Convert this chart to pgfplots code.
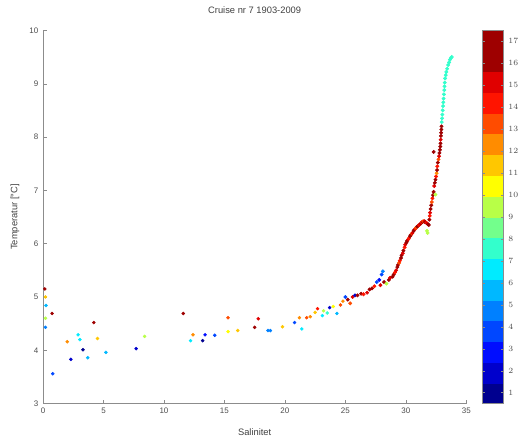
\documentclass[border=0pt]{standalone}
\usepackage{fontspec}
\setmainfont{Liberation Sans}
\usepackage{pgfplots}
\usepackage{pgfplotstable}
\pgfplotsset{compat=1.18}
\pgfplotstableread{
x y c
0.15 5.15 17
0.2 5.00 11
0.25 4.84 6
0.75 4.69 16
0.2 4.60 9
0.2 4.43 5
0.8 3.56 4
2.0 4.16 12
2.3 3.83 2
2.9 4.29 7
3.05 4.20 7
3.3 4.01 1
3.7 3.86 6
4.2 4.52 17
4.5 4.22 11
5.2 3.96 6
7.7 4.03 2
8.4 4.26 9
11.6 4.69 16
12.4 4.29 12
12.2 4.18 7
13.2 4.18 1
13.4 4.29 3
14.2 4.28 4
15.3 4.61 13
15.3 4.35 10
16.1 4.37 11
17.5 4.43 16
17.8 4.59 15
18.6 4.37 5
18.8 4.37 5
19.8 4.44 11
20.8 4.52 4
21.2 4.61 12
21.4 4.40 7
21.8 4.61 13
22.1 4.63 12
22.5 4.71 11
22.7 4.78 14
23.1 4.65 7
23.2 4.74 9
23.5 4.70 8
23.7 4.80 2
24.0 4.82 10
24.3 4.69 6
24.6 4.85 13
24.8 4.92 12
}\sparse
\pgfplotstableread{
x y c
25.0 5.00 4
25.2 4.95 16
25.4 4.88 13
25.6 5.00 15
25.8 5.03 2
26.0 5.03 17
26.3 5.06 16
26.5 5.05 14
26.8 5.08 15
27.0 5.14 17
27.2 5.16 16
27.4 5.20 14
27.6 5.28 4
27.8 5.32 3
28.0 5.42 4
28.1 5.48 5
27.9 5.22 15
28.2 5.28 16
28.4 5.25 9
28.6 5.32 16
28.7 5.36 15
28.9 5.38 17
29.0 5.42 16
29.1 5.46 14
29.2 5.50 15
29.3 5.56 17
29.35 5.60 16
29.45 5.64 13
29.5 5.68 14
29.6 5.73 16
29.65 5.78 17
29.75 5.82 15
29.8 5.87 16
29.9 5.93 14
29.95 5.98 15
30.05 6.02 17
30.1 6.05 16
30.2 6.08 15
30.25 6.10 14
30.35 6.14 16
30.4 6.16 17
30.5 6.19 13
30.55 6.20 15
30.65 6.24 17
30.7 6.26 16
30.8 6.28 14
30.85 6.30 13
30.95 6.32 17
31.0 6.33 16
31.1 6.35 14
31.15 6.36 15
31.25 6.38 17
31.3 6.40 14
31.4 6.41 16
31.45 6.42 13
31.55 6.42 15
31.6 6.40 16
31.7 6.39 14
31.75 6.38 15
31.85 6.36 16
31.9 6.35 17
31.8 6.20 9
31.75 6.24 9
31.95 6.45 16
31.98 6.52 14
32.0 6.58 15
32.05 6.65 16
32.1 6.72 17
32.15 6.78 13
32.2 6.85 14
32.25 6.91 17
32.3 6.97 16
32.45 6.92 9
32.35 7.08 15
32.4 7.14 17
32.45 7.20 16
32.5 7.26 14
32.55 7.32 12
32.58 7.38 16
32.6 7.45 14
32.65 7.52 17
32.7 7.58 13
32.75 7.64 15
32.78 7.70 16
32.82 7.76 17
32.85 7.82 17
32.87 7.88 16
32.88 7.95 15
32.9 8.02 16
32.92 8.08 17
32.94 8.14 16
32.95 8.20 16
32.3 7.72 17
32.97 8.28 8
33.0 8.35 8
33.02 8.42 8
33.05 8.50 8
33.08 8.58 8
33.1 8.65 8
33.12 8.72 8
33.15 8.80 8
33.18 8.88 8
33.2 8.95 8
33.22 9.02 8
33.25 9.10 8
33.3 9.16 8
33.35 9.22 8
33.42 9.28 8
33.5 9.35 8
33.58 9.40 8
33.65 9.45 8
33.72 9.48 8
33.8 9.50 8
}\curve
\begin{document}
\begin{tikzpicture}
\path[use as bounding box] (-32.25pt,-29.25pt) rectangle (359.75pt,302.5pt);
\begin{axis}[
  scale only axis, width=317.25pt, height=279.75pt,
  xmin=0, xmax=35, ymin=3, ymax=10,
  xtick={0,5,...,35}, ytick={3,...,10},
  axis lines*=left, axis line style={black!45},
  tick style={black!45}, tick align=inside, major tick length=3pt,
  ticklabel style={font=\fontsize{6}{7}\selectfont, text=black!70},
  /pgf/number format/assume math mode=true,
  xlabel={Salinitet}, ylabel={Temperatur [°C]},
  label style={font=\fontsize{7}{8}\selectfont, text=black!75},
  xlabel style={at={(axis description cs:0.5,0)}, anchor=base, yshift=-24pt},
  ylabel style={at={(axis description cs:-0.0662,0.5)}, anchor=center},
  title={Cruise nr 7 1903-2009},
  title style={font=\fontsize{7}{8}\selectfont, text=black!75, at={(axis description cs:0.5,1)}, anchor=base, yshift=7pt},
  colormap={jet17}{rgb=(0,0,.56) rgb=(0,0,.8) rgb=(0,.05,1) rgb=(0,.28,1) rgb=(0,.5,1) rgb=(0,.72,1) rgb=(0,.92,1) rgb=(.2,1,.8) rgb=(.45,1,.55) rgb=(.72,1,.28) rgb=(1,1,0) rgb=(1,.78,0) rgb=(1,.55,0) rgb=(1,.3,0) rgb=(1,.08,0) rgb=(.88,0,0) rgb=(.62,0,0) rgb=(.62,0,0)},
  colormap access=piecewise constant,
  point meta min=0.5, point meta max=17.5,
  colorbar,
  colorbar style={width=15.75pt, ytick={1,...,17}, at={(parent axis.north east)}, anchor=north west, xshift=3.75pt,
    axis line style={black!45}, tick style={black!45}, tick align=inside, major tick length=2pt,
    yticklabel style={font=\fontsize{6}{7}\selectfont, text=black!70}},
]
\addplot[scatter, only marks, scatter src=explicit, mark=*, mark size=1.1pt,
  scatter/use mapped color={draw=mapped color, fill=mapped color}] table[x=x, y=y, meta=c] {\sparse};
\addplot[scatter, only marks, scatter src=explicit, mark=*, mark size=1.25pt,
  scatter/use mapped color={draw=mapped color, fill=mapped color}] table[x=x, y=y, meta=c] {\curve};
\end{axis}
\end{tikzpicture}
\end{document}
